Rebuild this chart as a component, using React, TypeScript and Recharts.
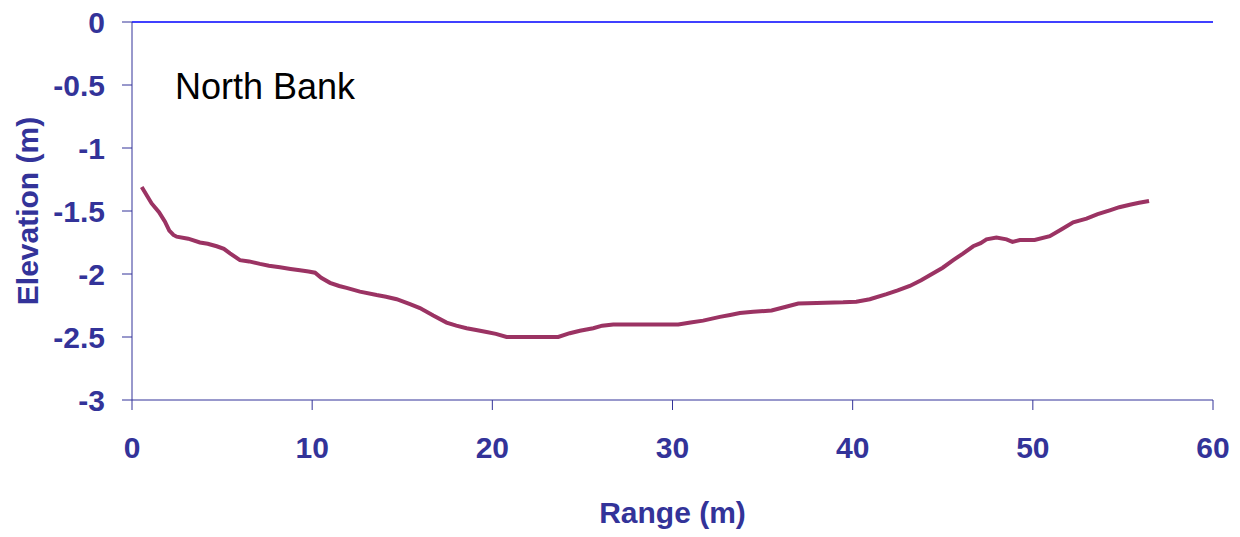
import React from 'react';
import { LineChart, Line, XAxis, YAxis, ReferenceLine } from 'recharts';

const rangeM = [
  0.54, 1.09, 1.5, 1.83, 2.07, 2.3, 2.48, 3.12, 3.77, 4.2, 4.7, 5.1, 5.44, 5.99, 6.5, 7.1, 7.6, 8.21, 8.8, 9.32,
  9.8, 10.16, 10.5, 10.99, 11.5, 11.91, 12.65, 13.58, 14.1, 14.69, 15.43, 15.98, 16.72, 17.46, 18.0, 18.57, 19.1,
  19.68, 20.2, 20.79, 23.66, 24.3, 24.86, 25.6, 26.1, 26.71, 30.32, 31.0, 31.7, 32.63, 33.2, 33.74, 34.48, 35.5,
  36.3, 36.98, 38.0, 39.47, 40.2, 40.95, 41.88, 42.5, 43.17, 43.8, 44.28, 45.0, 45.58, 46.1, 46.69, 47.1, 47.43,
  47.98, 48.54, 48.87, 49.28, 50.1, 50.94, 51.6, 52.24, 52.98, 53.6, 54.27, 54.8, 55.38, 55.9, 56.45,
];

const elevationM = [
  -1.31, -1.44, -1.51, -1.585, -1.656, -1.69, -1.704, -1.72, -1.75, -1.76, -1.78, -1.8, -1.836, -1.89, -1.9, -1.92,
  -1.935, -1.947, -1.96, -1.97, -1.98, -1.99, -2.03, -2.07, -2.095, -2.11, -2.14, -2.167, -2.18, -2.2, -2.24, -2.27,
  -2.33, -2.386, -2.41, -2.43, -2.445, -2.46, -2.475, -2.5, -2.5, -2.47, -2.45, -2.43, -2.41, -2.4, -2.4, -2.385,
  -2.37, -2.34, -2.325, -2.31, -2.3, -2.29, -2.26, -2.235, -2.23, -2.225, -2.22, -2.2, -2.16, -2.13, -2.095, -2.05,
  -2.01, -1.95, -1.89, -1.84, -1.78, -1.755, -1.725, -1.71, -1.725, -1.745, -1.73, -1.73, -1.7, -1.645, -1.59,
  -1.56, -1.525, -1.495, -1.47, -1.45, -1.435, -1.42,
];

const xTicks = [0, 10, 20, 30, 40, 50, 60];
const yTicks = [0, -0.5, -1, -1.5, -2, -2.5, -3];

const data = rangeM.map((r, i) => ({ range: r, elevation: elevationM[i] }));

const AXIS_BLUE = '#333399';
const FONT = '"Liberation Sans", Arial, sans-serif';

export default function App() {
  return (
    <div style={{ position: 'absolute', left: 0, top: 0, width: 1240, height: 537, background: '#fff' }}>
      <LineChart width={1240} height={537} data={data} margin={{ top: 22, right: 27, left: 0, bottom: 0 }}>
        <XAxis
          dataKey="range"
          type="number"
          domain={[0, 60]}
          ticks={xTicks}
          height={137}
          tickSize={10}
          tickMargin={27}
          stroke={AXIS_BLUE}
          tick={{ fill: AXIS_BLUE, fontSize: 30, fontWeight: 'bold', fontFamily: FONT }}
          label={{
            value: 'Range (m)',
            position: 'insideBottom',
            offset: 14,
            style: { fill: AXIS_BLUE, fontSize: 30, fontWeight: 'bold', fontFamily: FONT },
          }}
        />
        <YAxis
          type="number"
          domain={[-3, 0]}
          ticks={yTicks}
          width={132}
          tickSize={10}
          tickMargin={17}
          stroke={AXIS_BLUE}
          tick={{ fill: AXIS_BLUE, fontSize: 30, fontWeight: 'bold', fontFamily: FONT }}
          label={{
            value: 'Elevation (m)',
            angle: -90,
            position: 'insideLeft',
            offset: 27,
            style: { fill: AXIS_BLUE, fontSize: 30, fontWeight: 'bold', fontFamily: FONT, textAnchor: 'middle' },
          }}
        />
        <ReferenceLine y={0} stroke="#0000ff" strokeWidth={1.5} />
        <Line
          type="linear"
          dataKey="elevation"
          stroke="#9b3363"
          strokeWidth={4}
          dot={false}
          isAnimationActive={false}
        />
        <text x={175} y={99} fontSize={36} fontFamily={FONT} fill="#000">
          North Bank
        </text>
      </LineChart>
    </div>
  );
}
